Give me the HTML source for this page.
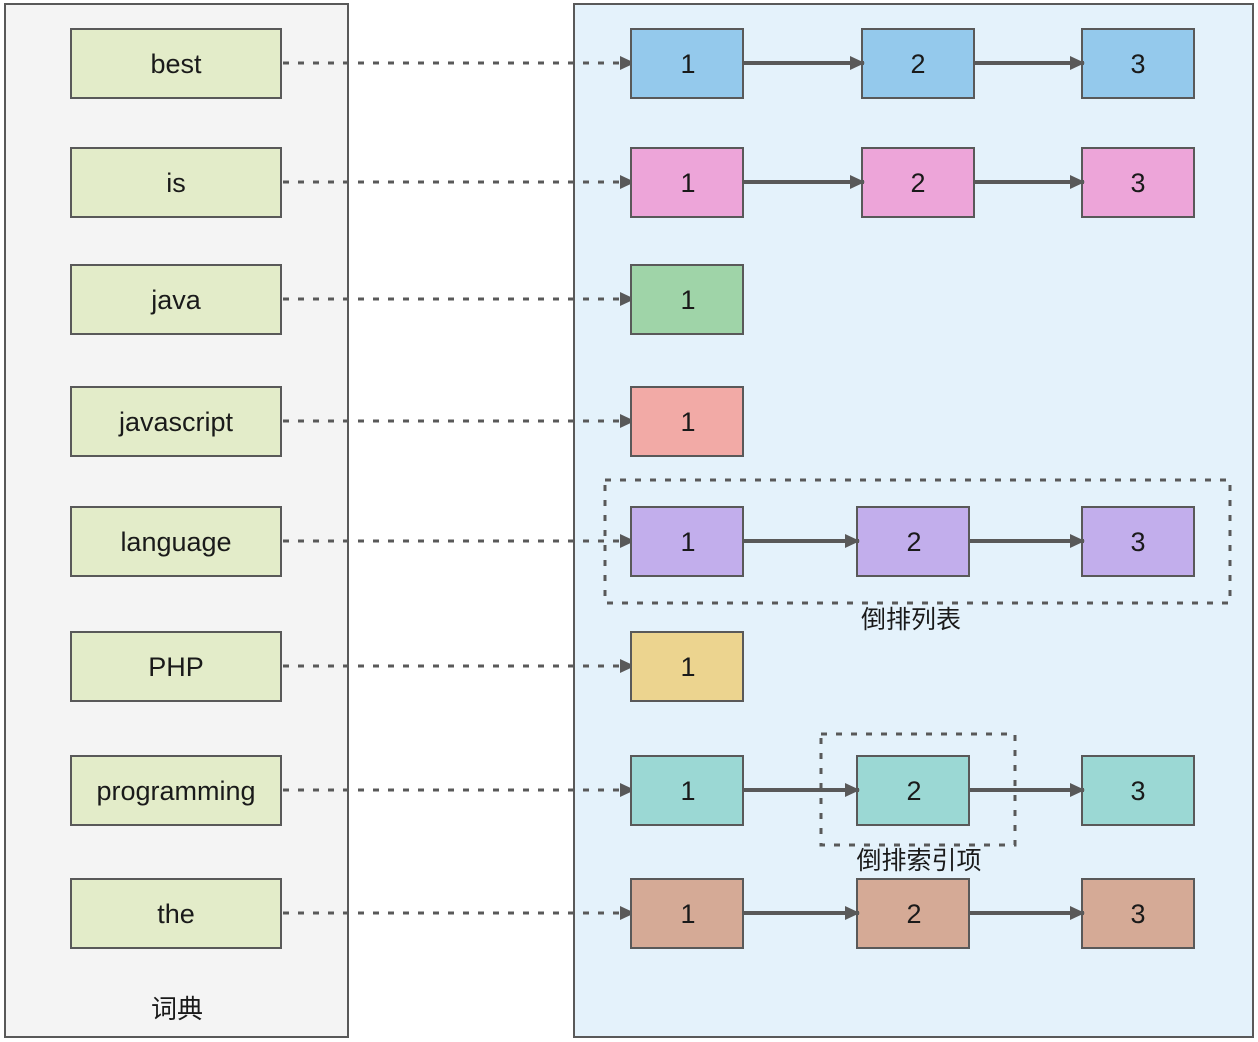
<!DOCTYPE html>
<html><head><meta charset="utf-8"><style>
html,body{margin:0;padding:0;background:#fff;width:1258px;height:1042px;overflow:hidden}
text{font-family:"Liberation Sans","Noto Sans CJK SC",sans-serif;fill:#1a1a1a;font-size:27px;text-anchor:middle}
.l{fill:#e3ecc9;stroke:#595959;stroke-width:2}
.r{stroke:#595959;stroke-width:2}
.d{stroke:#595959;stroke-width:3;stroke-dasharray:6,9;marker-end:url(#b)}
.s{stroke:#595959;stroke-width:4;marker-end:url(#b)}
</style></head><body>
<svg width="1258" height="1042" xmlns="http://www.w3.org/2000/svg">
<defs>
<marker id="b" markerWidth="16" markerHeight="16" refX="14" refY="8" orient="auto" markerUnits="userSpaceOnUse"><path d="M0,1 L15,8 L0,15 Z" fill="#595959"/></marker>
</defs>
<rect x="5" y="4" width="343" height="1033" fill="#f4f4f4" stroke="#595959" stroke-width="2"/>
<rect x="574" y="4" width="679" height="1033" fill="#e4f2fb" stroke="#595959" stroke-width="2"/>
<g stroke="#595959" stroke-width="3" stroke-dasharray="6,9" fill="none">
<rect x="605" y="480" width="625" height="123"/>
<rect x="821" y="734" width="194" height="111"/>
</g>
<text x="911" y="628" style="font-size:25px">倒排列表</text>
<text x="919" y="869" style="font-size:25px">倒排索引项</text>
<text x="177" y="1018" style="font-size:26px">词典</text>

<!-- left boxes -->
<rect class="l" x="71" y="29" width="210" height="69"/><text x="176" y="73">best</text>
<rect class="l" x="71" y="148" width="210" height="69"/><text x="176" y="192">is</text>
<rect class="l" x="71" y="265" width="210" height="69"/><text x="176" y="309">java</text>
<rect class="l" x="71" y="387" width="210" height="69"/><text x="176" y="431">javascript</text>
<rect class="l" x="71" y="507" width="210" height="69"/><text x="176" y="551">language</text>
<rect class="l" x="71" y="632" width="210" height="69"/><text x="176" y="676">PHP</text>
<rect class="l" x="71" y="756" width="210" height="69"/><text x="176" y="800">programming</text>
<rect class="l" x="71" y="879" width="210" height="69"/><text x="176" y="923">the</text>

<!-- dashed connectors -->
<line class="d" x1="283" y1="63" x2="634" y2="63"/>
<line class="d" x1="283" y1="182" x2="634" y2="182"/>
<line class="d" x1="283" y1="299" x2="634" y2="299"/>
<line class="d" x1="283" y1="421" x2="634" y2="421"/>
<line class="d" x1="283" y1="541" x2="634" y2="541"/>
<line class="d" x1="283" y1="666" x2="634" y2="666"/>
<line class="d" x1="283" y1="790" x2="634" y2="790"/>
<line class="d" x1="283" y1="913" x2="634" y2="913"/>

<!-- row 1 -->
<rect class="r" x="631" y="29" width="112" height="69" fill="#94c9ec"/><text x="688" y="73">1</text>
<rect class="r" x="862" y="29" width="112" height="69" fill="#94c9ec"/><text x="918" y="73">2</text>
<rect class="r" x="1082" y="29" width="112" height="69" fill="#94c9ec"/><text x="1138" y="73">3</text>
<line class="s" x1="744" y1="63" x2="864" y2="63"/><line class="s" x1="975" y1="63" x2="1084" y2="63"/>
<!-- row 2 -->
<rect class="r" x="631" y="148" width="112" height="69" fill="#eda5d9"/><text x="688" y="192">1</text>
<rect class="r" x="862" y="148" width="112" height="69" fill="#eda5d9"/><text x="918" y="192">2</text>
<rect class="r" x="1082" y="148" width="112" height="69" fill="#eda5d9"/><text x="1138" y="192">3</text>
<line class="s" x1="744" y1="182" x2="864" y2="182"/><line class="s" x1="975" y1="182" x2="1084" y2="182"/>
<!-- row 3,4 -->
<rect class="r" x="631" y="265" width="112" height="69" fill="#9fd4a8"/><text x="688" y="309">1</text>
<rect class="r" x="631" y="387" width="112" height="69" fill="#f2aaa6"/><text x="688" y="431">1</text>
<!-- row 5 -->
<rect class="r" x="631" y="507" width="112" height="69" fill="#c2aeec"/><text x="688" y="551">1</text>
<rect class="r" x="857" y="507" width="112" height="69" fill="#c2aeec"/><text x="914" y="551">2</text>
<rect class="r" x="1082" y="507" width="112" height="69" fill="#c2aeec"/><text x="1138" y="551">3</text>
<line class="s" x1="744" y1="541" x2="859" y2="541"/><line class="s" x1="970" y1="541" x2="1084" y2="541"/>
<!-- row 6 -->
<rect class="r" x="631" y="632" width="112" height="69" fill="#ecd48f"/><text x="688" y="676">1</text>
<!-- row 7 -->
<rect class="r" x="631" y="756" width="112" height="69" fill="#9bd8d4"/><text x="688" y="800">1</text>
<rect class="r" x="857" y="756" width="112" height="69" fill="#9bd8d4"/><text x="914" y="800">2</text>
<rect class="r" x="1082" y="756" width="112" height="69" fill="#9bd8d4"/><text x="1138" y="800">3</text>
<line class="s" x1="744" y1="790" x2="859" y2="790"/><line class="s" x1="970" y1="790" x2="1084" y2="790"/>
<!-- row 8 -->
<rect class="r" x="631" y="879" width="112" height="69" fill="#d5aa96"/><text x="688" y="923">1</text>
<rect class="r" x="857" y="879" width="112" height="69" fill="#d5aa96"/><text x="914" y="923">2</text>
<rect class="r" x="1082" y="879" width="112" height="69" fill="#d5aa96"/><text x="1138" y="923">3</text>
<line class="s" x1="744" y1="913" x2="859" y2="913"/><line class="s" x1="970" y1="913" x2="1084" y2="913"/>
</svg>
</body></html>
